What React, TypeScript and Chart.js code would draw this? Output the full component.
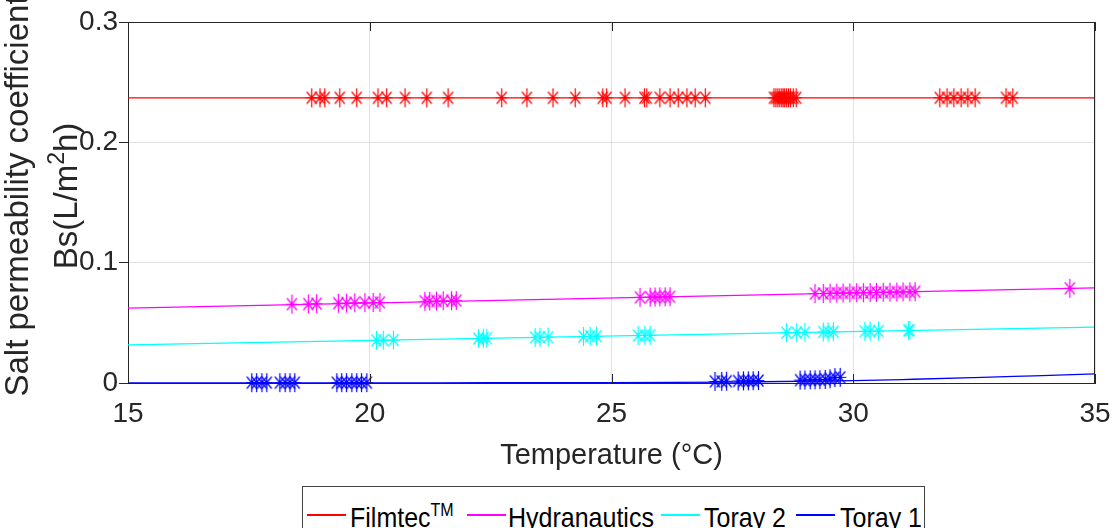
import React, { useEffect, useRef } from 'react';
import { Chart, registerables } from 'chart.js';
Chart.register(...registerables);

// ---------- data ----------
const xTicks = [15, 20, 25, 30, 35];
const yTicks = [0, 0.1, 0.2, 0.3];

const fitT = [15, 35];
const filmtecFit = [0.237, 0.237];
const hydraFit = [0.0623, 0.079];
const toray2Fit = [0.0316, 0.0464];
const toray1FitT = [15, 20, 22.5, 25, 27.5, 30, 31.25, 32.5, 33.75, 35];
const toray1Fit = [0.0, 0.0001, 0.0002, 0.0003, 0.0008, 0.0019, 0.0031, 0.0045, 0.006, 0.0075];

const filmtecT = [18.8, 18.97, 19.07, 19.38, 19.73, 20.17, 20.35, 20.73, 21.18, 21.62, 22.73, 23.25, 23.79, 24.25, 24.82, 24.9, 25.28, 25.68, 25.73, 26.0, 26.21, 26.38, 26.56, 26.73, 26.94, 28.36, 28.4, 28.44, 28.48, 28.52, 28.55, 28.58, 28.62, 28.66, 28.7, 28.76, 28.82, 31.79, 31.94, 32.08, 32.23, 32.37, 32.52, 33.16, 33.3];
const filmtecBs = [0.237, 0.237, 0.237, 0.237, 0.237, 0.237, 0.237, 0.237, 0.237, 0.237, 0.237, 0.237, 0.237, 0.237, 0.237, 0.237, 0.237, 0.237, 0.237, 0.237, 0.237, 0.237, 0.237, 0.237, 0.237, 0.237, 0.237, 0.237, 0.237, 0.237, 0.237, 0.237, 0.237, 0.237, 0.237, 0.237, 0.237, 0.237, 0.237, 0.237, 0.237, 0.237, 0.237, 0.237, 0.237];

const hydraT = [18.39, 18.73, 18.9, 19.35, 19.52, 19.69, 19.9, 20.07, 20.21, 21.14, 21.24, 21.38, 21.52, 21.69, 21.79, 25.59, 25.8, 25.9, 26.0, 26.11, 26.21, 29.21, 29.38, 29.52, 29.66, 29.79, 29.93, 30.07, 30.21, 30.35, 30.48, 30.62, 30.76, 30.9, 31.03, 31.17, 31.28, 34.48];
const hydraBs = [0.0655, 0.0656, 0.0659, 0.0663, 0.0664, 0.0667, 0.0668, 0.0669, 0.067, 0.0679, 0.068, 0.0681, 0.0683, 0.0684, 0.0685, 0.0712, 0.0714, 0.0715, 0.0716, 0.0716, 0.0717, 0.0743, 0.0744, 0.0746, 0.0747, 0.0748, 0.0749, 0.075, 0.0751, 0.0752, 0.0753, 0.0754, 0.0755, 0.0756, 0.0757, 0.0758, 0.0759, 0.0787];

const toray2T = [20.14, 20.28, 20.49, 22.25, 22.35, 22.42, 23.42, 23.52, 23.69, 24.42, 24.56, 24.69, 25.55, 25.69, 25.8, 28.62, 28.83, 29.0, 29.38, 29.48, 29.59, 30.24, 30.35, 30.52, 31.14, 31.17];
const toray2Bs = [0.0355, 0.0356, 0.0357, 0.037, 0.0371, 0.0372, 0.0379, 0.038, 0.0381, 0.0387, 0.0388, 0.0389, 0.0395, 0.0396, 0.0397, 0.0418, 0.042, 0.0421, 0.0424, 0.0425, 0.0426, 0.043, 0.0431, 0.0432, 0.0437, 0.0438];

const toray1T = [17.56, 17.66, 17.77, 17.87, 18.14, 18.25, 18.35, 18.45, 19.32, 19.42, 19.52, 19.63, 19.73, 19.83, 19.94, 27.14, 27.28, 27.38, 27.62, 27.73, 27.83, 27.93, 28.04, 28.9, 29.0, 29.11, 29.21, 29.31, 29.42, 29.52, 29.62, 29.73];
const toray1Bs = [0.0003, 0.0003, 0.0003, 0.0003, 0.0003, 0.0003, 0.0003, 0.0003, 0.0003, 0.0003, 0.0003, 0.0003, 0.0003, 0.0003, 0.0003, 0.0013, 0.0014, 0.0015, 0.0017, 0.0018, 0.0018, 0.0019, 0.002, 0.0024, 0.0025, 0.0026, 0.0027, 0.0028, 0.003, 0.0035, 0.0045, 0.0047];

const seriesNames = ['Filmtec', 'Hydranautics', 'Toray 2', 'Toray 1'];
const seriesColors = ['#ff0000', '#ff00ff', '#00ffff', '#0000ff'];

const FONT = "'Liberation Sans', Arial, Helvetica, sans-serif";
const AXIS = '#262626';

function pts(xs: number[], ys: number[]) {
  return xs.map((x, i) => ({ x, y: ys[i] }));
}

function makeStar(color: string) {
  const c = document.createElement('canvas');
  c.width = 15;
  c.height = 21;
  const g = c.getContext('2d')!;
  g.strokeStyle = color;
  g.lineWidth = 1.2;
  g.beginPath();
  g.moveTo(7.5, 1); g.lineTo(7.5, 20);
  g.moveTo(1.5, 10.5); g.lineTo(13.5, 10.5);
  g.moveTo(2.5, 4.5); g.lineTo(12.5, 16.5);
  g.moveTo(12.5, 4.5); g.lineTo(2.5, 16.5);
  g.stroke();
  return c;
}

const decor = {
  id: 'decor',
  afterDraw(chart: any) {
    const { ctx, chartArea: a, scales } = chart;
    ctx.save();
    ctx.strokeStyle = AXIS;
    ctx.lineWidth = 1;
    ctx.beginPath();
    ctx.moveTo(a.left, a.top + 0.5); ctx.lineTo(a.right, a.top + 0.5);
    ctx.moveTo(a.right - 0.5, a.top); ctx.lineTo(a.right - 0.5, a.bottom);
    scales.x.ticks.forEach((t: any) => {
      const px = Math.round(scales.x.getPixelForValue(t.value)) + 0.5;
      ctx.moveTo(px, a.bottom); ctx.lineTo(px, a.bottom - 9);
      ctx.moveTo(px, a.top); ctx.lineTo(px, a.top + 9);
    });
    ctx.stroke();

    ctx.fillStyle = AXIS;
    // x title
    ctx.font = `29px ${FONT}`;
    ctx.textAlign = 'center';
    ctx.textBaseline = 'alphabetic';
    ctx.fillText('Temperature (°C)', (a.left + a.right) / 2, 464);

    // y title line 1
    ctx.save();
    ctx.translate(28, 196);
    ctx.rotate(-Math.PI / 2);
    ctx.font = `33px ${FONT}`;
    ctx.textAlign = 'center';
    ctx.fillText('Salt permeability coefficient', 0, 0);
    ctx.restore();

    // y title line 2 with superscript
    ctx.save();
    ctx.translate(77, 196);
    ctx.rotate(-Math.PI / 2);
    ctx.textAlign = 'left';
    ctx.font = `33px ${FONT}`;
    const p1 = 'Bs(L/m';
    const p3 = 'h)';
    const w1 = ctx.measureText(p1).width;
    const w3 = ctx.measureText(p3).width;
    ctx.font = `23px ${FONT}`;
    const w2 = ctx.measureText('2').width;
    const tot = w1 + w2 + w3;
    const x0 = -tot / 2;
    ctx.font = `33px ${FONT}`;
    ctx.fillText(p1, x0, 0);
    ctx.font = `23px ${FONT}`;
    ctx.fillText('2', x0 + w1, -13);
    ctx.font = `33px ${FONT}`;
    ctx.fillText(p3, x0 + w1 + w2, 0);
    ctx.restore();

    ctx.restore();
  },
};

export default function App() {
  const ref = useRef<HTMLCanvasElement>(null);
  useEffect(() => {
    const stars = seriesColors.map(makeStar);
    const lineDs = (label: string, data: any[], color: string) => ({
      label,
      data,
      showLine: true,
      borderColor: color,
      backgroundColor: color,
      borderWidth: 1.3,
      pointRadius: 0,
      cubicInterpolationMode: 'monotone',
      clip: false,
    });
    const starDs = (label: string, data: any[], idx: number) => ({
      label,
      data,
      showLine: false,
      pointStyle: stars[idx],
      pointRadius: 6,
      borderColor: seriesColors[idx],
      backgroundColor: seriesColors[idx],
      clip: false,
    });
    const chart = new Chart(ref.current!, {
      type: 'scatter',
      data: {
        datasets: [
          lineDs('Filmtec fit', pts(fitT, filmtecFit), seriesColors[0]),
          lineDs('Hydranautics fit', pts(fitT, hydraFit), seriesColors[1]),
          lineDs('Toray 2 fit', pts(fitT, toray2Fit), seriesColors[2]),
          lineDs('Toray 1 fit', pts(toray1FitT, toray1Fit), seriesColors[3]),
          starDs(seriesNames[0], pts(filmtecT, filmtecBs), 0),
          starDs(seriesNames[1], pts(hydraT, hydraBs), 1),
          starDs(seriesNames[2], pts(toray2T, toray2Bs), 2),
          starDs(seriesNames[3], pts(toray1T, toray1Bs), 3),
        ] as any,
      },
      options: {
        responsive: false,
        animation: false,
        events: [],
        layout: { padding: { top: 22, right: 18, bottom: 0, left: 0 } },
        plugins: { legend: { display: false }, tooltip: { enabled: false }, title: { display: false } },
        scales: {
          x: {
            type: 'linear',
            min: 15,
            max: 35,
            afterBuildTicks: (s: any) => { s.ticks = xTicks.map((v) => ({ value: v })); },
            afterFit: (s: any) => { s.height = 145; s.paddingLeft = 0; s.paddingRight = 0; },
            grid: { color: '#e2e2e2', drawTicks: false, lineWidth: 1 },
            border: { color: AXIS, width: 1 },
            ticks: { font: { family: FONT, size: 28 }, color: AXIS, padding: 14, maxRotation: 0 },
          },
          y: {
            type: 'linear',
            min: 0,
            max: 0.3,
            afterBuildTicks: (s: any) => { s.ticks = yTicks.map((v) => ({ value: v })); },
            afterFit: (s: any) => { s.width = 128; s.paddingTop = 0; s.paddingBottom = 0; },
            grid: { color: '#e2e2e2', drawTicks: true, tickLength: 9, tickColor: AXIS, lineWidth: 1 },
            border: { color: AXIS, width: 1 },
            ticks: { font: { family: FONT, size: 28 }, color: AXIS, padding: 1, callback: (v: any) => String(v) },
          },
        },
      },
      plugins: [decor],
    } as any);
    return () => chart.destroy();
  }, []);

  const legendText: React.CSSProperties = {
    position: 'absolute',
    fontFamily: FONT,
    fontSize: 25,
    lineHeight: '25px',
    top: 19,
    color: '#000',
    whiteSpace: 'nowrap',
    transform: 'scaleY(1.12)',
    transformOrigin: '0px 21.2px',
  };
  const legendLine = (left: number, color: string): React.CSSProperties => ({
    position: 'absolute',
    left,
    top: 27,
    width: 39,
    height: 2,
    backgroundColor: color,
  });

  return (
    <div style={{ position: 'fixed', left: 0, top: 0, width: 1113, height: 528, overflow: 'hidden', background: '#fff' }}>
      <canvas ref={ref} width={1113} height={528} style={{ position: 'absolute', left: 0, top: 0, width: 1113, height: 528 }} />
      <div style={{ position: 'absolute', left: 302, top: 486, width: 623, height: 60, border: '1px solid #444', boxSizing: 'border-box', background: '#fff' }}>
        <div style={legendLine(4, seriesColors[0])} />
        <span style={{ ...legendText, left: 47 }}>
          {seriesNames[0]}
          <span style={{ fontSize: 16, position: 'relative', top: -10 }}>TM</span>
        </span>
        <div style={legendLine(164, seriesColors[1])} />
        <span style={{ ...legendText, left: 205 }}>{seriesNames[1]}</span>
        <div style={legendLine(358, seriesColors[2])} />
        <span style={{ ...legendText, left: 401 }}>{seriesNames[2]}</span>
        <div style={legendLine(493, seriesColors[3])} />
        <span style={{ ...legendText, left: 537 }}>{seriesNames[3]}</span>
      </div>
    </div>
  );
}
